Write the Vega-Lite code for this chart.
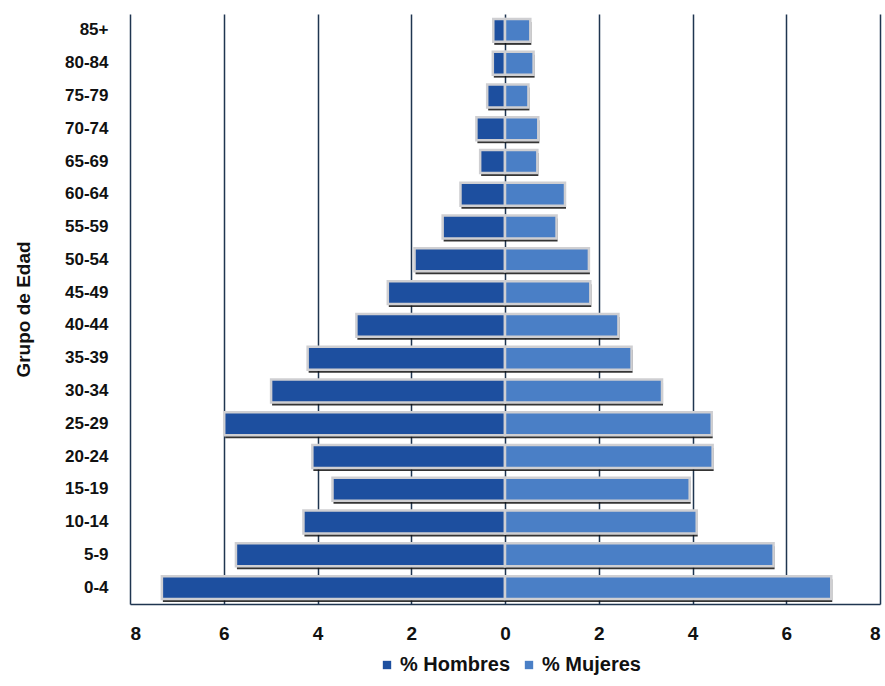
{
  "$schema": "https://vega.github.io/schema/vega-lite/v6.json",
  "autosize": "none",
  "width": 750,
  "height": 590,
  "padding": {"left": 130, "top": 14, "right": 5, "bottom": 82},
  "background": "white",
  "config": {
    "font": "Liberation Sans",
    "view": {"stroke": null}
  },
  "data": {
    "values": [
      {"grupo": "85+", "sexo": "% Hombres", "valor": -0.25},
      {"grupo": "80-84", "sexo": "% Hombres", "valor": -0.26},
      {"grupo": "75-79", "sexo": "% Hombres", "valor": -0.38},
      {"grupo": "70-74", "sexo": "% Hombres", "valor": -0.61},
      {"grupo": "65-69", "sexo": "% Hombres", "valor": -0.53},
      {"grupo": "60-64", "sexo": "% Hombres", "valor": -0.95},
      {"grupo": "55-59", "sexo": "% Hombres", "valor": -1.33},
      {"grupo": "50-54", "sexo": "% Hombres", "valor": -1.93},
      {"grupo": "45-49", "sexo": "% Hombres", "valor": -2.50},
      {"grupo": "40-44", "sexo": "% Hombres", "valor": -3.17},
      {"grupo": "35-39", "sexo": "% Hombres", "valor": -4.21},
      {"grupo": "30-34", "sexo": "% Hombres", "valor": -4.99},
      {"grupo": "25-29", "sexo": "% Hombres", "valor": -5.99},
      {"grupo": "20-24", "sexo": "% Hombres", "valor": -4.11},
      {"grupo": "15-19", "sexo": "% Hombres", "valor": -3.68},
      {"grupo": "10-14", "sexo": "% Hombres", "valor": -4.30},
      {"grupo": "5-9", "sexo": "% Hombres", "valor": -5.74},
      {"grupo": "0-4", "sexo": "% Hombres", "valor": -7.32},
      {"grupo": "85+", "sexo": "% Mujeres", "valor": 0.54},
      {"grupo": "80-84", "sexo": "% Mujeres", "valor": 0.61},
      {"grupo": "75-79", "sexo": "% Mujeres", "valor": 0.50},
      {"grupo": "70-74", "sexo": "% Mujeres", "valor": 0.71},
      {"grupo": "65-69", "sexo": "% Mujeres", "valor": 0.69},
      {"grupo": "60-64", "sexo": "% Mujeres", "valor": 1.28},
      {"grupo": "55-59", "sexo": "% Mujeres", "valor": 1.10},
      {"grupo": "50-54", "sexo": "% Mujeres", "valor": 1.79},
      {"grupo": "45-49", "sexo": "% Mujeres", "valor": 1.82},
      {"grupo": "40-44", "sexo": "% Mujeres", "valor": 2.42},
      {"grupo": "35-39", "sexo": "% Mujeres", "valor": 2.70},
      {"grupo": "30-34", "sexo": "% Mujeres", "valor": 3.35},
      {"grupo": "25-29", "sexo": "% Mujeres", "valor": 4.41},
      {"grupo": "20-24", "sexo": "% Mujeres", "valor": 4.43},
      {"grupo": "15-19", "sexo": "% Mujeres", "valor": 3.94},
      {"grupo": "10-14", "sexo": "% Mujeres", "valor": 4.09},
      {"grupo": "5-9", "sexo": "% Mujeres", "valor": 5.73},
      {"grupo": "0-4", "sexo": "% Mujeres", "valor": 6.96}
    ]
  },
  "encoding": {
    "y": {
      "field": "grupo",
      "type": "nominal",
      "sort": ["85+", "80-84", "75-79", "70-74", "65-69", "60-64", "55-59", "50-54", "45-49", "40-44", "35-39", "30-34", "25-29", "20-24", "15-19", "10-14", "5-9", "0-4"],
      "scale": {"paddingInner": 0.3, "paddingOuter": 0.15},
      "axis": {
        "title": "Grupo de Edad",
        "titleFont": "Liberation Sans",
        "titleFontSize": 19,
        "titleFontWeight": "bold",
        "titleColor": "#111111",
        "titlePadding": 31,
        "labelFont": "Liberation Sans",
        "labelFontSize": 17,
        "labelFontWeight": "bold",
        "labelColor": "#111111",
        "labelPadding": 22,
        "ticks": false,
        "domain": false,
        "grid": false
      }
    },
    "x": {
      "field": "valor",
      "type": "quantitative",
      "scale": {"domain": [-8, 8], "nice": false},
      "axis": {
        "title": null,
        "values": [-8, -6, -4, -2, 0, 2, 4, 6, 8],
        "labelExpr": "abs(datum.value)",
        "labelFont": "Liberation Sans",
        "labelFontSize": 19,
        "labelFontWeight": "bold",
        "labelColor": "#111111",
        "labelPadding": 20,
        "ticks": false,
        "domain": true,
        "domainColor": "#1f3550",
        "domainWidth": 1.5,
        "grid": true,
        "gridColor": "#1f3550",
        "gridWidth": 1.5,
        "gridOpacity": 1
      }
    }
  },
  "layer": [
    {
      "mark": {"type": "bar", "color": "#111111", "yOffset": 3, "xOffset": 1, "opacity": 0.85}
    },
    {
      "mark": {"type": "bar", "stroke": "#cfcfd2", "strokeWidth": 2.5},
      "encoding": {
        "color": {
          "field": "sexo",
          "type": "nominal",
          "scale": {"domain": ["% Hombres", "% Mujeres"], "range": ["#1d4f9f", "#4a7fc6"]},
          "legend": {
            "title": null,
            "orient": "none",
            "legendX": 247,
            "legendY": 641,
            "direction": "horizontal",
            "symbolType": "square",
            "symbolSize": 70,
            "symbolStrokeWidth": 0,
            "labelFont": "Liberation Sans",
            "labelFontSize": 20,
            "labelFontWeight": "bold",
            "labelColor": "#111111",
            "columnPadding": 8,
            "labelOffset": 3
          }
        }
      }
    }
  ]
}
